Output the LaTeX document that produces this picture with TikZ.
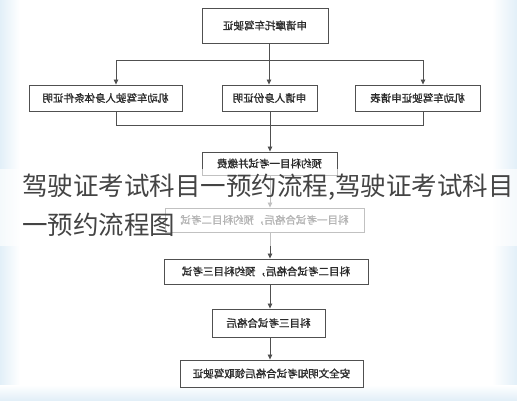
\documentclass[tikz,border=0pt]{standalone}
\usepackage{fontspec}
\newfontfamily\cjk{Noto Sans CJK SC}
\newfontfamily\cjkbox{Noto Sans CJK SC}[FakeBold=1.2]
\usetikzlibrary{arrows.meta}
\definecolor{edgeblue}{HTML}{E2EFF8}
\definecolor{boxline}{HTML}{505050}
\definecolor{boxtext}{HTML}{2A2A2A}
\definecolor{overtext}{HTML}{444444}
\tikzset{
  box/.style={draw=boxline, line width=0.9pt, fill=white, inner sep=0pt,
    font=\cjkbox\fontsize{10.5}{12}\selectfont, text=boxtext},
  link/.style={draw=boxline, line width=0.8pt},
  arrowlink/.style={link, -{Triangle[length=5pt,width=4.5pt]}},
  overlay text/.style={font=\cjk\fontsize{25.5}{30}\selectfont, text=overtext, inner sep=0pt, anchor=west}
}
\newcommand{\mir}[1]{\reflectbox{#1}}
\begin{document}
\begin{tikzpicture}[x=1pt,y=-1pt]
\useasboundingbox (0,0) rectangle (517,400);
% background
\fill[white] (0,0) rectangle (517,400);
\shade[left color=edgeblue, right color=white] (0,0) rectangle (20,400);
\shade[left color=white, right color=edgeblue] (492,0) rectangle (517,400);
\shade[top color=white, bottom color=edgeblue] (0,385) rectangle (517,400);
% boxes
\node[box, minimum width=126pt, minimum height=35pt] (b1) at (265,25.5) {\mir{申请摩托车驾驶证}};
\node[box, minimum width=153pt, minimum height=26pt] (b2) at (105.5,98) {\mir{机动车驾驶人身体条件证明}};
\node[box, minimum width=95pt, minimum height=26pt] (b3) at (269.5,98) {\mir{申请人身份证明}};
\node[box, minimum width=125pt, minimum height=26pt] (b4) at (417.5,98) {\mir{机动车驾驶证申请表}};
\node[box, minimum width=135pt, minimum height=23pt] (b5) at (269.5,163.5) {\mir{预约科目一考试并缴费}};
\node[box, minimum width=199pt, minimum height=24pt] (b6) at (264.5,220) {\mir{科目一考试合格后，预约科目二考试}};
\node[box, minimum width=204pt, minimum height=25pt] (b7) at (266,271.5) {\mir{科目二考试合格后，预约科目三考试}};
\node[box, minimum width=113pt, minimum height=28pt] (b8) at (268.5,323) {\mir{科目三考试合格后}};
\node[box, minimum width=183pt, minimum height=27pt] (b9) at (271.5,373.5) {\mir{安全文明知考试合格后领取驾驶证}};
% connectors
\coordinate (top) at (269,60);
\coordinate (tl) at (116,60);
\coordinate (tr) at (423,60);
\coordinate (bot) at (270,125);
\coordinate (bl) at (116,125);
\coordinate (br) at (423,125);
\coordinate (spine) at (270,0);
\draw[link] (b1.south -| top) -- (top);
\draw[link] (tl) -- (tr);
\draw[arrowlink] (tl) -- (tl |- b2.north);
\draw[arrowlink] (top) -- (top |- b3.north);
\draw[arrowlink] (tr) -- (tr |- b4.north);
\draw[link] (b2.south -| bl) -- (bl) -- (br) -- (b4.south -| br);
\draw[link] (b3.south -| bot) -- (bot);
\draw[arrowlink] (bot) -- (b5.north -| bot);
\draw[arrowlink] (b5.south -| spine) -- (b6.north -| spine);
\draw[arrowlink] (b6.south -| spine) -- (b7.north -| spine);
\draw[arrowlink] (b7.south -| spine) -- (b8.north -| spine);
\draw[arrowlink] (b8.south -| spine) -- (b9.north -| spine);
% overlay band and caption
\fill[white, opacity=0.65] (0,169) rectangle (517,246);
\node[overlay text] (cap1) at (22,187) {驾驶证考试科目一预约流程,驾驶证考试科目};
\node[overlay text] (cap2) at (22,225) {一预约流程图};
\end{tikzpicture}
\end{document}
